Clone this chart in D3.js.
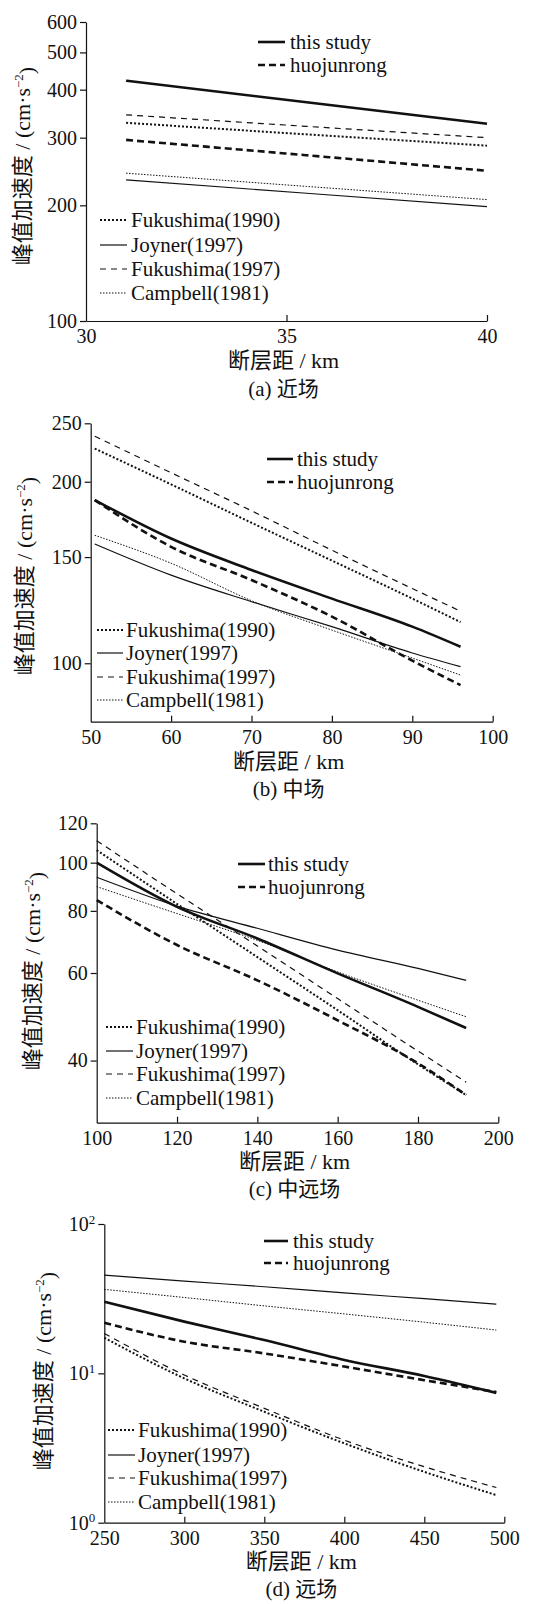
<!DOCTYPE html>
<html>
<head>
<meta charset="utf-8">
<script src="https://cdn.jsdelivr.net/npm/d3@7/dist/d3.min.js"></script>
<style>
  body { margin: 0; background: #fff; }
  svg { display: block; }
  text { font-family: "Liberation Serif", "Noto Sans CJK SC", serif; fill: #111; }
</style>
</head>
<body>
<script>
// series names, in legend order
var seriesNames = ["this study", "huojunrong", "Fukushima(1990)", "Joyner(1997)", "Fukushima(1997)", "Campbell(1981)"];

// (a) near field
var aDist = [31, 35.5, 40];
var aThisStudy = [422, 371, 326];
var aHuojunrong = [296, 270, 246];
var aFuku1990 = [328, 306, 286];
var aJoyner = [233, 215, 198.5];
var aFuku1997 = [344, 321, 300];
var aCampbell = [242.5, 224, 207];
var aXTicks = [30, 35, 40];
var aYTicks = [100, 200, 300, 400, 500, 600];

// (b) middle field
var bDist = [50.5, 60, 70, 80, 90, 96];
var bThisStudy = [186.5, 161, 142.8, 128, 115, 106.5];
var bHuojunrong = [186.5, 156, 137.4, 119.5, 101, 92];
var bFuku1990 = [227, 198, 171, 148, 128, 117];
var bJoyner = [157.7, 140, 126.5, 115, 104, 98.7];
var bFuku1997 = [238, 207, 179, 154, 133, 122];
var bCampbell = [163, 146.5, 127, 113.5, 102, 95.6];
var bXTicks = [50, 60, 70, 80, 90, 100];
var bYTicks = [100, 150, 200, 250];

// (c) middle-far field
var cDist = [100, 120, 140, 160, 180, 192];
var cThisStudy = [100, 81.5, 70.4, 59.9, 51.3, 46.5];
var cHuojunrong = [84.1, 68.3, 58, 48.2, 39.5, 34.1];
var cFuku1990 = [106, 82.6, 64.6, 50.5, 39.3, 34.1];
var cJoyner = [93.5, 81.8, 73.8, 66.7, 61.3, 58];
var cFuku1997 = [110.7, 86.6, 68, 53.3, 41.8, 36.2];
var cCampbell = [89.5, 79, 69.8, 60.3, 52.9, 49];
var cXTicks = [100, 120, 140, 160, 180, 200];
var cYTicks = [40, 60, 80, 100, 120];

// (d) far field
var dDist = [250, 300, 350, 400, 450, 495];
var dThisStudy = [30.2, 22.2, 16.7, 12.3, 9.6, 7.4];
var dHuojunrong = [21.8, 16.3, 13.6, 11.1, 9.0, 7.5];
var dFuku1990 = [17.3, 9.26, 5.53, 3.4, 2.19, 1.53];
var dJoyner = [45.5, 41.5, 38, 34.6, 31.6, 29.1];
var dFuku1997 = [18.5, 9.75, 5.83, 3.57, 2.37, 1.72];
var dCampbell = [36.5, 32.2, 28.3, 25, 22, 19.5];
var dXTicks = [250, 300, 350, 400, 450, 500];
var dYTicks = [1, 10, 100];

var lineStyle = {
    "this study":      { w: 2.6, dash: null },
    "huojunrong":      { w: 2.6, dash: "7,4" },
    "Fukushima(1990)": { w: 2,   dash: "2,2" },
    "Joyner(1997)":    { w: 1.2, dash: null },
    "Fukushima(1997)": { w: 1.2, dash: "6,5" },
    "Campbell(1981)":  { w: 1,   dash: "1.5,1.5" }
};

var panels = [
    { dist: aDist, values: [aThisStudy, aHuojunrong, aFuku1990, aJoyner, aFuku1997, aCampbell],
      xDomain: [30, 40], xRange: [86, 487], xTicks: aXTicks,
      yDomain: [100, 600], yRange: [321, 22], yTicks: aYTicks, sup: false,
      caption: "(a) 近场", titleY: 368, captionY: 396, yTitleX: 22, yTitleY: 166,
      legTop: { x0: 258, x1: 285, tx: 290, rows: [42, 65] },
      legBot: { x0: 100, x1: 127, tx: 131, rows: [220, 245, 269, 293] } },
    { dist: bDist, values: [bThisStudy, bHuojunrong, bFuku1990, bJoyner, bFuku1997, bCampbell],
      xDomain: [50, 100], xRange: [90.7, 492.7], xTicks: bXTicks,
      yDomain: [80, 250], yRange: [721.7, 423.3], yTicks: bYTicks, sup: false,
      caption: "(b) 中场", titleY: 769, captionY: 796, yTitleX: 24, yTitleY: 576,
      legTop: { x0: 267, x1: 293, tx: 297, rows: [459, 482] },
      legBot: { x0: 97, x1: 123, tx: 126, rows: [630, 653, 677, 700] } },
    { dist: cDist, values: [cThisStudy, cHuojunrong, cFuku1990, cJoyner, cFuku1997, cCampbell],
      xDomain: [100, 200], xRange: [96.7, 498.3], xTicks: cXTicks,
      yDomain: [30, 120], yRange: [1122.7, 823.3], yTicks: cYTicks, sup: false,
      caption: "(c) 中远场", titleY: 1169, captionY: 1196, yTitleX: 32, yTitleY: 971,
      legTop: { x0: 238, x1: 265, tx: 268, rows: [864, 887] },
      legBot: { x0: 106, x1: 133, tx: 136, rows: [1027, 1051, 1074, 1098] } },
    { dist: dDist, values: [dThisStudy, dHuojunrong, dFuku1990, dJoyner, dFuku1997, dCampbell],
      xDomain: [250, 500], xRange: [104.3, 504.3], xTicks: dXTicks,
      yDomain: [1, 100], yRange: [1522.7, 1224], yTicks: dYTicks, sup: true,
      caption: "(d) 远场", titleY: 1569, captionY: 1596, yTitleX: 43, yTitleY: 1371,
      legTop: { x0: 264, x1: 288, tx: 293, rows: [1241, 1263] },
      legBot: { x0: 108, x1: 135, tx: 138, rows: [1430, 1455, 1478, 1502] } }
];

var svg = d3.select("body").append("svg")
    .attr("width", 535)
    .attr("height", 1604);

function styleLine(sel, name) {
    var s = lineStyle[name];
    sel.attr("fill", "none")
        .attr("stroke", "#111")
        .attr("stroke-width", s.w)
        .attr("stroke-dasharray", s.dash);
}

function drawPanel(p) {
    var g = svg.append("g");
    var x = d3.scaleLinear().domain(p.xDomain).range(p.xRange);
    var y = d3.scaleLog().domain(p.yDomain).range(p.yRange);

    var xAxis = d3.axisBottom(x)
        .tickValues(p.xTicks)
        .tickSize(-6)
        .tickSizeOuter(0)
        .tickPadding(8)
        .tickFormat(d3.format("d"));
    var yAxis = d3.axisLeft(y)
        .tickValues(p.yTicks)
        .tickSize(6)
        .tickSizeOuter(0)
        .tickPadding(3)
        .tickFormat(function(d) { return p.sup ? "10" : d3.format("d")(d); });

    var gx = g.append("g")
        .attr("transform", "translate(0," + p.yRange[0] + ")")
        .call(xAxis);
    var gy = g.append("g")
        .attr("transform", "translate(" + p.xRange[0] + ",0)")
        .call(yAxis);

    [gx, gy].forEach(function(ax) {
        ax.selectAll("path, line").attr("stroke", "#111").attr("stroke-width", 1.2);
        ax.selectAll("text").attr("font-size", "20px").attr("fill", "#111")
            .attr("font-family", "Liberation Serif, serif");
    });
    // first x tick coincides with the y axis
    gx.selectAll(".tick line").filter(function(d, i) { return i === 0; }).remove();

    if (p.sup) {
        gy.selectAll(".tick text").each(function(d) {
            d3.select(this).append("tspan")
                .attr("dy", "-0.55em")
                .attr("font-size", "13px")
                .text(Math.round(Math.log10(d)));
        });
    }

    var line = d3.line()
        .x(function(d) { return x(d[0]); })
        .y(function(d) { return y(d[1]); })
        .curve(d3.curveMonotoneX);

    seriesNames.forEach(function(name, i) {
        var pts = p.dist.map(function(dv, j) { return [dv, p.values[i][j]]; });
        g.append("path")
            .datum(pts)
            .attr("d", line)
            .call(styleLine, name);
    });

    // legends: two at top right, four at bottom left
    var legendItems = [
        { lg: p.legTop, names: seriesNames.slice(0, 2) },
        { lg: p.legBot, names: seriesNames.slice(2) }
    ];
    legendItems.forEach(function(item) {
        item.names.forEach(function(name, i) {
            var ry = item.lg.rows[i];
            g.append("line")
                .attr("x1", item.lg.x0).attr("x2", item.lg.x1)
                .attr("y1", ry).attr("y2", ry)
                .call(styleLine, name);
            g.append("text")
                .attr("x", item.lg.tx)
                .attr("y", ry)
                .attr("dy", "0.33em")
                .attr("font-size", "21px")
                .text(name);
        });
    });

    var cx = (p.xRange[0] + p.xRange[1]) / 2;
    g.append("text")
        .attr("x", cx - 3)
        .attr("y", p.titleY)
        .attr("text-anchor", "middle")
        .attr("font-size", "22px")
        .text("断层距 / km");
    g.append("text")
        .attr("x", cx - 3)
        .attr("y", p.captionY)
        .attr("text-anchor", "middle")
        .attr("font-size", "21px")
        .text(p.caption);

    var yt = g.append("text")
        .attr("transform", "translate(" + p.yTitleX + "," + p.yTitleY + ") rotate(-90)")
        .attr("text-anchor", "middle")
        .attr("dy", "0.35em")
        .attr("font-size", "22px");
    yt.append("tspan").text("峰值加速度 / (cm·s");
    yt.append("tspan").attr("dy", "-0.5em").attr("font-size", "13px").text("−2");
    yt.append("tspan").attr("dy", "0.5em").text(")");
}

panels.forEach(drawPanel);
</script>
</body>
</html>
